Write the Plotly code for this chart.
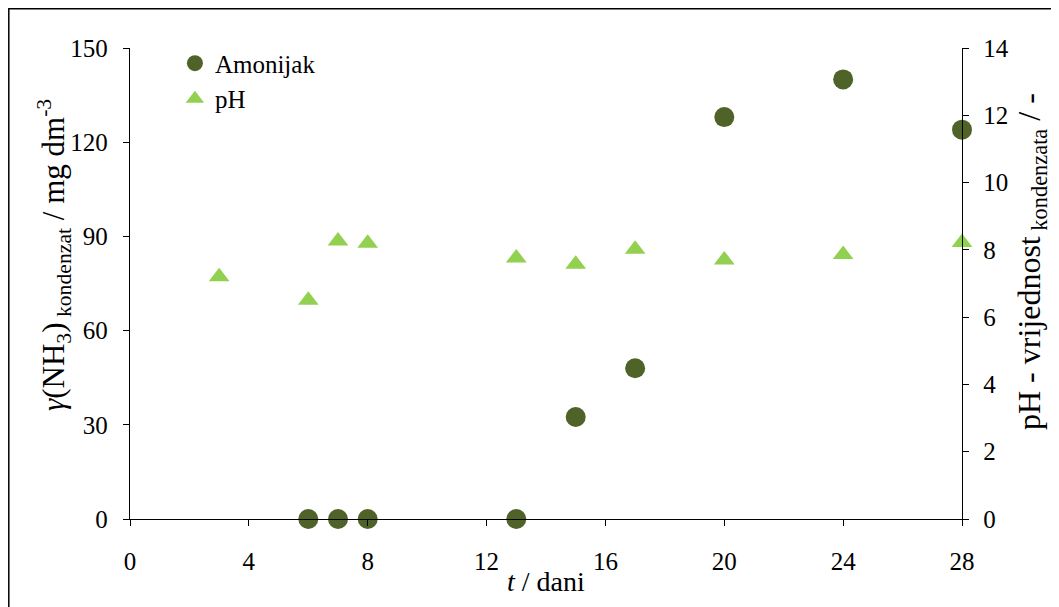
import plotly.graph_objects as go

# data
amon_t = [6, 7, 8, 13, 15, 17, 20, 24, 28]
amon_val = [0, 0, 0, 0, 32.5, 48, 128, 140, 124]
ph_t = [3, 6, 7, 8, 13, 15, 17, 20, 24, 28]
ph_val = [7.2, 6.5, 8.26, 8.2, 7.76, 7.57, 8.02, 7.7, 7.86, 8.22]

x_ticks = [0, 4, 8, 12, 16, 20, 24, 28]
y_ticks = [0, 30, 60, 90, 120, 150]
y2_ticks = [0, 2, 4, 6, 8, 10, 12, 14]

x_title = "<i>t</i> / dani"
y_title = "<i>γ</i>(NH<sub>3</sub>)<sub> kondenzat</sub> / mg dm<sup>-3</sup>"
y2_title = "pH - vrijednost<sub> kondenzata</sub> / -"

FONT = "Liberation Serif"

fig = go.Figure()
fig.add_trace(go.Scatter(
    x=amon_t, y=amon_val, mode="markers", name="Amonijak",
    marker=dict(symbol="circle", size=20, color="#4F6228"),
    cliponaxis=False,
))
fig.add_trace(go.Scatter(
    x=ph_t, y=ph_val, mode="markers", name="pH", yaxis="y2",
    marker=dict(symbol="triangle-up", size=18, color="#92D050"),
    cliponaxis=False,
))

# page has an 8px body margin; figure sized to fit the window
W, H = 1051, 599
L, R, T, B = 122, 97, 40, 88
pw, ph = W - L - R, H - T - B

def px2paper_x(px):
    return (px - L) / pw

def px2paper_y(py):
    return (H - B - py) / ph

fig.add_shape(type="rect", xref="paper", yref="paper",
              x0=px2paper_x(0.8), x1=px2paper_x(1100),
              y0=px2paper_y(700), y1=px2paper_y(0.8),
              line=dict(color="black", width=1.5), fillcolor="rgba(0,0,0,0)",
              layer="below")

axis_common = dict(showgrid=False, zeroline=False, showline=True,
                   linecolor="black", linewidth=1.3, ticks="outside",
                   ticklen=6, tickcolor="black", tickwidth=1.3,
                   tickfont=dict(family=FONT, size=25, color="black"))

fig.add_annotation(text=x_title, xref="paper", yref="paper",
                   x=px2paper_x(538), y=px2paper_y(573),
                   xanchor="center", yanchor="middle", showarrow=False,
                   font=dict(family=FONT, size=28, color="black"))
fig.add_annotation(text=y_title, xref="paper", yref="paper", textangle=-90,
                   x=px2paper_x(46), y=px2paper_y(247),
                   xanchor="center", yanchor="middle", showarrow=False,
                   font=dict(family=FONT, size=31, color="black"))
fig.add_annotation(text=y2_title, xref="paper", yref="paper", textangle=-90,
                   x=px2paper_x(1023), y=px2paper_y(254),
                   xanchor="center", yanchor="middle", showarrow=False,
                   font=dict(family=FONT, size=32, color="black"))

fig.update_layout(
    width=W, height=H,
    margin=dict(l=L, r=R, t=T, b=B),
    paper_bgcolor="white", plot_bgcolor="white",
    font=dict(family=FONT, color="black"),
    showlegend=True,
    legend=dict(x=0.054, y=1.016, xanchor="left", yanchor="top",
                bgcolor="rgba(0,0,0,0)", font=dict(family=FONT, size=25, color="black"),
                itemsizing="trace", itemwidth=30),
    xaxis=dict(range=[0, 28], tickvals=x_ticks, ticklabelstandoff=14, **axis_common),
    yaxis=dict(range=[0, 150], tickvals=y_ticks, ticklabelstandoff=10, **axis_common),
    yaxis2=dict(range=[0, 14], tickvals=y2_ticks, overlaying="y", side="right",
                ticklabelstandoff=9, **axis_common),
)

fig.write_html("out.html")
